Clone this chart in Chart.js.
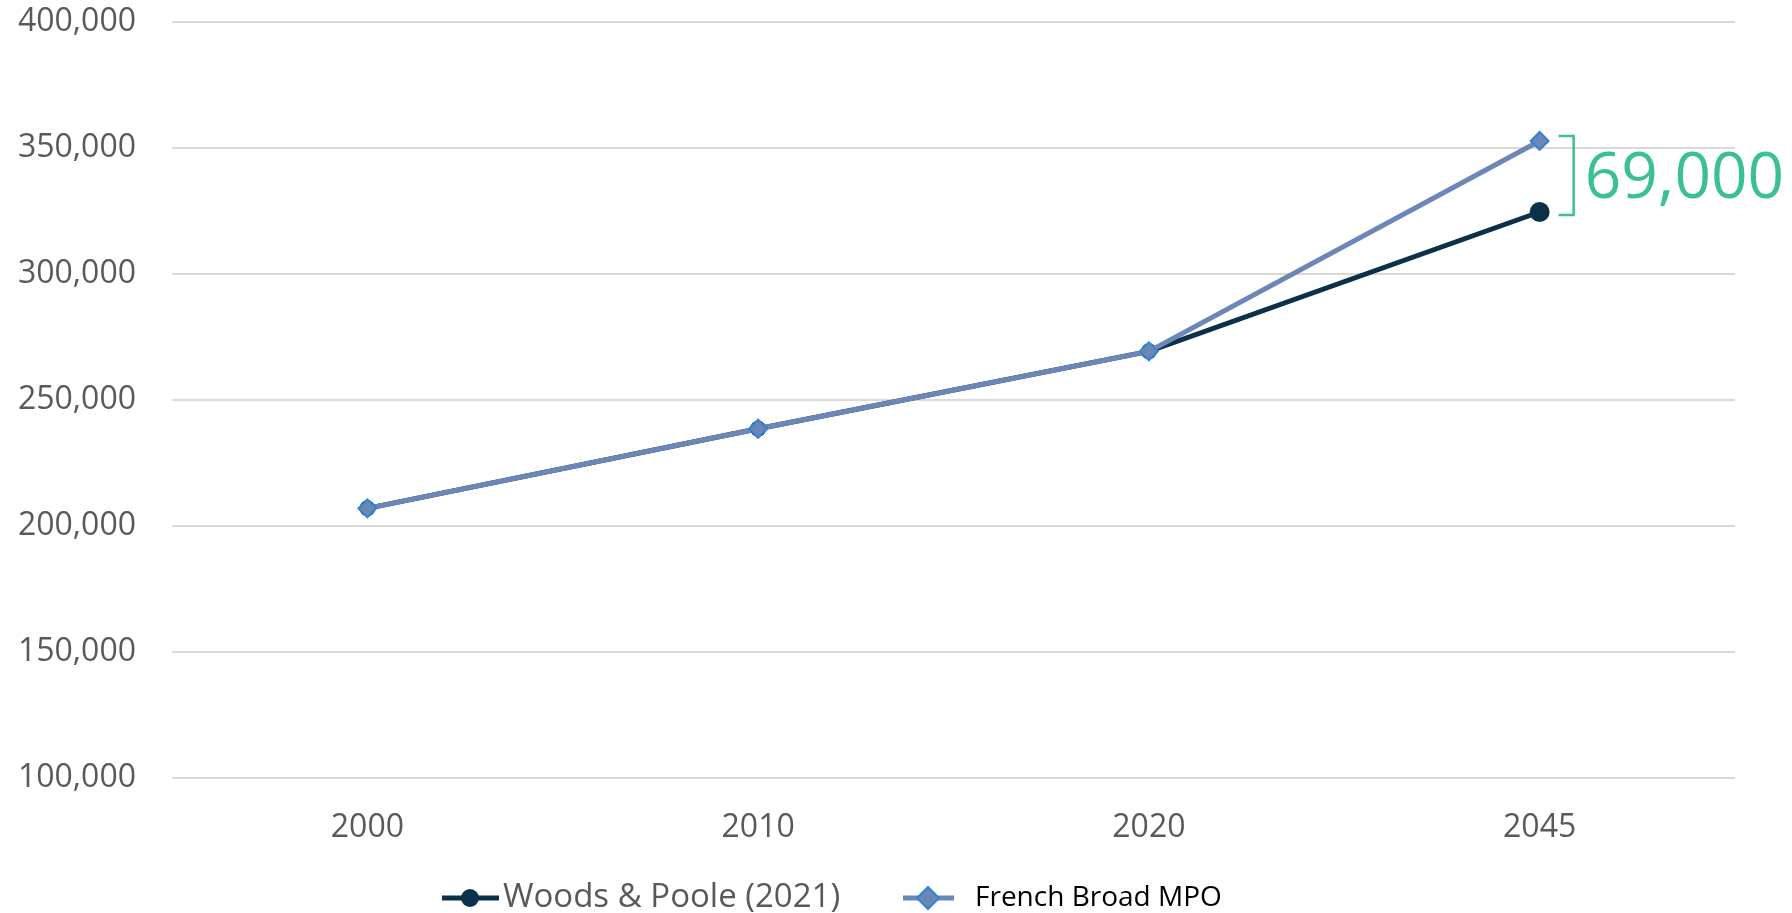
<!DOCTYPE html>
<html>
<head>
<meta charset="utf-8">
<script src="https://cdn.jsdelivr.net/npm/chart.js@4.4.0/dist/chart.umd.min.js"></script>
<style>
  html, body { margin: 0; padding: 0; background: #fff; }
  #wrap { width: 1792px; height: 913px; position: relative; }
</style>
</head>
<body>
<div id="wrap"><canvas id="lineChart"></canvas></div>
<script>
// data
const years = ['2000', '2010', '2020', '2045'];
const woodsPoole = [207000, 238600, 269300, 324600];
const frenchBroad = [207000, 238600, 269300, 352800];
const yTicks = [100000, 150000, 200000, 250000, 300000, 350000, 400000];
const gapLabel = '69,000';

const NAVY = '#0b3049';
const STEEL = '#6a87b7';
const DIAMOND_EDGE = '#3384d0';
const GREEN = '#3bbf94';
const FONT = '"Open Sans", sans-serif';

// draws the legend and the bracket + gap label at 2045
const extras = {
  id: 'extras',
  afterDraw(chart) {
    const ctx = chart.ctx;
    const y = chart.scales.y;
    const x = chart.scales.x;
    ctx.save();

    // bracket
    const last = years.length - 1;
    const bx = x.getPixelForValue(last) + 34;
    const yTop = y.getPixelForValue(frenchBroad[last]) - 5;
    const yBot = y.getPixelForValue(woodsPoole[last]) + 3;
    ctx.strokeStyle = GREEN;
    ctx.lineWidth = 2.5;
    ctx.beginPath();
    ctx.moveTo(bx - 15, yTop);
    ctx.lineTo(bx, yTop);
    ctx.lineTo(bx, yBot);
    ctx.lineTo(bx - 15, yBot);
    ctx.stroke();

    ctx.fillStyle = GREEN;
    ctx.font = '64px ' + FONT;
    ctx.textAlign = 'left';
    ctx.textBaseline = 'alphabetic';
    ctx.fillText(gapLabel, bx + 11, (yTop + yBot) / 2 + 23);

    // legend
    const ly = 898;
    ctx.lineWidth = 5;
    ctx.strokeStyle = NAVY;
    ctx.beginPath(); ctx.moveTo(442, ly); ctx.lineTo(499, ly); ctx.stroke();
    ctx.fillStyle = NAVY;
    ctx.beginPath(); ctx.arc(470, ly, 9, 0, Math.PI * 2); ctx.fill();
    ctx.fillStyle = '#595959';
    ctx.font = '33px ' + FONT;
    ctx.textBaseline = 'middle';
    ctx.fillText('Woods & Poole (2021)', 503, ly);

    ctx.strokeStyle = STEEL;
    ctx.beginPath(); ctx.moveTo(903, ly); ctx.lineTo(954, ly); ctx.stroke();
    ctx.fillStyle = STEEL;
    ctx.strokeStyle = DIAMOND_EDGE;
    ctx.lineWidth = 2;
    ctx.beginPath();
    ctx.moveTo(928, ly - 11); ctx.lineTo(939, ly); ctx.lineTo(928, ly + 11); ctx.lineTo(917, ly);
    ctx.closePath(); ctx.fill(); ctx.stroke();
    ctx.fillStyle = '#000';
    ctx.font = '28px ' + FONT;
    ctx.fillText('French Broad MPO', 975, ly);

    ctx.restore();
  }
};

const ctx = document.getElementById('lineChart').getContext('2d');
new Chart(ctx, {
  type: 'line',
  data: {
    labels: years,
    datasets: [
      {
        label: 'Woods & Poole (2021)',
        data: woodsPoole,
        order: 2,
        borderColor: NAVY,
        backgroundColor: NAVY,
        borderWidth: 5,
        pointStyle: 'circle',
        pointRadius: (c) => c.dataIndex === years.length - 1 ? 10 : 8,
        pointBorderWidth: 0,
        tension: 0
      },
      {
        label: 'French Broad MPO',
        data: frenchBroad,
        order: 1,
        borderColor: STEEL,
        backgroundColor: STEEL,
        pointBorderColor: DIAMOND_EDGE,
        borderWidth: 5,
        pointStyle: 'rectRot',
        pointRadius: 9,
        pointBorderWidth: 2,
        tension: 0
      }
    ]
  },
  options: {
    responsive: true,
    maintainAspectRatio: false,
    animation: false,
    layout: { padding: { top: 22, right: 57, left: 0, bottom: 0 } },
    plugins: {
      legend: { display: false },
      tooltip: { enabled: false }
    },
    scales: {
      x: {
        offset: true,
        grid: { display: false, drawTicks: false },
        border: { display: false },
        ticks: {
          color: '#595959',
          font: { family: FONT, size: 32 },
          padding: 31
        },
        afterFit(scale) { scale.height = 135; }
      },
      y: {
        min: yTicks[0],
        max: yTicks[yTicks.length - 1],
        afterBuildTicks(scale) { scale.ticks = yTicks.map(v => ({ value: v })); },
        grid: { color: '#d9d9d9', lineWidth: 2, drawTicks: false },
        border: { display: false },
        ticks: {
          color: '#595959',
          font: { family: FONT, size: 32 },
          padding: 36,
          callback: (v) => v.toLocaleString('en-US')
        },
        afterFit(scale) {
          scale.width = 172;
          scale.paddingTop = 0;
          scale.paddingBottom = 0;
        }
      }
    }
  },
  plugins: [extras]
});
</script>
</body>
</html>
